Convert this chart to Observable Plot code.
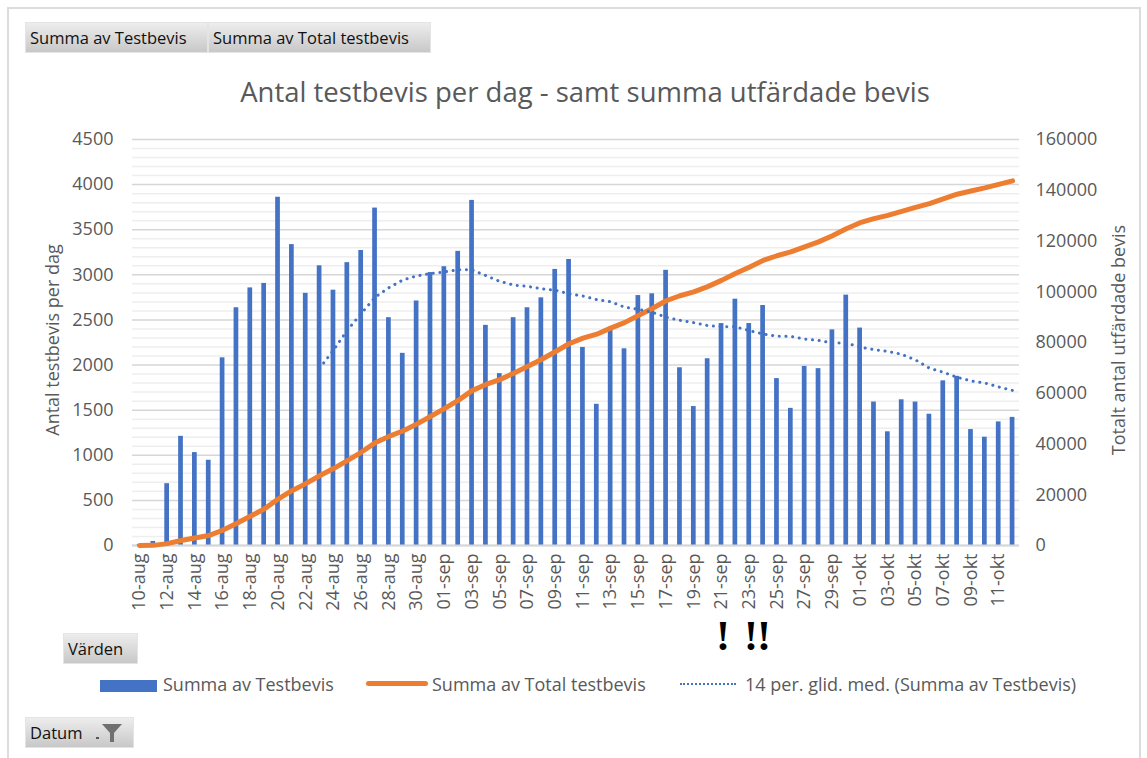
<!DOCTYPE html>
<html><head><meta charset="utf-8">
<script src="https://cdn.jsdelivr.net/npm/d3@7"></script>
<script src="https://cdn.jsdelivr.net/npm/@observablehq/plot@0.6"></script>
<style>
body{margin:0;background:#fff;}
#page{position:relative;width:1147px;height:758px;overflow:hidden;font-family:"Open Sans",sans-serif;background:#fff;}
.frame{position:absolute;left:7px;top:7px;width:1134px;height:800px;border:2px solid #dcdcdc;box-sizing:border-box;}
.btn{position:absolute;height:31px;background:linear-gradient(#ededed,#c8c8c8);border:1px solid #e4e4e4;box-sizing:border-box;font-size:16.5px;color:#111;line-height:29px;padding-left:4px;white-space:nowrap;}
.title{position:absolute;left:0;width:1170px;top:73px;text-align:center;font-size:27.5px;color:#595959;white-space:nowrap;}
.ytitle{position:absolute;font-size:18px;color:#595959;white-space:nowrap;transform:rotate(-90deg);transform-origin:center center;text-align:center;width:300px;height:24px;line-height:24px;}
.leg{position:absolute;top:672px;font-size:18px;color:#595959;white-space:nowrap;line-height:24px;}
.excl{position:absolute;top:612px;font-family:"Liberation Serif","DejaVu Serif",serif;font-weight:bold;font-size:42px;color:#000;white-space:nowrap;letter-spacing:-1px;}
#chart{position:absolute;left:0;top:120px;}
</style></head>
<body>
<div id="page">
  <div class="frame"></div>
  <div class="btn" style="left:25px;top:22px;width:183px;">Summa av Testbevis</div>
  <div class="btn" style="left:208px;top:22px;width:223px;">Summa av Total testbevis</div>
  <div class="title">Antal testbevis per dag - samt summa utfärdade bevis</div>
  <div class="ytitle" style="left:-98px;top:328px;">Antal testbevis per dag</div>
  <div class="ytitle" style="left:968px;top:328px;">Totalt antal utfärdade bevis</div>
  <div id="chart"></div>
  <div class="btn" style="left:63px;top:633px;width:75px;padding-left:4px;">Värden</div>
  <div class="excl" style="left:716px;">!</div>
  <div class="excl" style="left:744px;">!!</div>
  <div class="leg" style="left:100px;"><span style="display:inline-block;width:57px;height:12px;background:#4472C4;vertical-align:-1px;margin-right:6px;"></span>Summa av Testbevis</div>
  <div class="leg" style="left:366px;"><span style="display:inline-block;width:62px;height:5px;border-radius:3px;background:#ED7D31;vertical-align:5px;margin-right:4px;"></span>Summa av Total testbevis</div>
  <div class="leg" style="left:680px;"><span style="display:inline-block;width:56px;height:0;border-top:2.5px dotted #4472C4;vertical-align:6px;margin-right:9px;"></span>14 per. glid. med. (Summa av Testbevis)</div>
  <div class="btn" style="left:25px;top:717px;width:109px;">Datum <svg width="36" height="22" style="position:absolute;left:66px;top:4px;"><rect x="4" y="15" width="3" height="2" fill="#555"/><polygon points="10,2 30,2 22,11 22,20 18,20 18,11" fill="#707070"/></svg></div>
</div>
<script>
const dates = ["10-aug","11-aug","12-aug","13-aug","14-aug","15-aug","16-aug","17-aug","18-aug","19-aug","20-aug","21-aug","22-aug","23-aug","24-aug","25-aug","26-aug","27-aug","28-aug","29-aug","30-aug","31-aug",
"01-sep","02-sep","03-sep","04-sep","05-sep","06-sep","07-sep","08-sep","09-sep","10-sep","11-sep","12-sep","13-sep","14-sep","15-sep","16-sep","17-sep","18-sep","19-sep","20-sep","21-sep","22-sep","23-sep","24-sep","25-sep","26-sep","27-sep","28-sep","29-sep","30-sep",
"01-okt","02-okt","03-okt","04-okt","05-okt","06-okt","07-okt","08-okt","09-okt","10-okt","11-okt","12-okt"];
const testbevis = [10,45,685,1210,1030,945,2080,2635,2855,2905,3860,3335,2795,3100,2830,3135,3270,3740,2525,2130,2710,3025,
3090,3260,3825,2440,1905,2525,2635,2745,3060,3170,2195,1565,2385,2180,2770,2790,3050,1970,1540,2070,2460,2730,2460,2660,1850,1520,1985,1960,2390,2775,
2410,1590,1260,1615,1590,1455,1825,1875,1285,1200,1370,1420];
const xTickLabels = ["10-aug","12-aug","14-aug","16-aug","18-aug","20-aug","22-aug","24-aug","26-aug","28-aug","30-aug","01-sep","03-sep","05-sep","07-sep","09-sep","11-sep","13-sep","15-sep","17-sep","19-sep","21-sep","23-sep","25-sep","27-sep","29-sep","01-okt","03-okt","05-okt","07-okt","09-okt","11-okt"];
const leftTicks = [0,500,1000,1500,2000,2500,3000,3500,4000,4500];
const rightTicks = [0,20000,40000,60000,80000,100000,120000,140000,160000];
const minorGrid = d3.range(0, 4501, 100);

const leftMax = 4500, rightMax = 160000, k = leftMax / rightMax;
const rows = dates.map((d, i) => ({date: d, count: testbevis[i]}));
const cumsumScaled = {mapIndex(I, S, T) { let s = 0; for (const i of I) { s += S[i]; T[i] = s * k; } }};

const chart = Plot.plot({
  width: 1147, height: 520,
  marginLeft: 132, marginRight: 128, marginTop: 19, marginBottom: 95,
  style: {fontFamily: "Open Sans, sans-serif", color: "#595959", background: "transparent", overflow: "visible"},
  x: {type: "band", domain: dates, paddingInner: 0.66, paddingOuter: 0.33},
  y: {domain: [0, leftMax]},
  marks: [
    Plot.ruleY(minorGrid.filter(v => v % 500 !== 0), {stroke: "#eeeeee", strokeWidth: 1.5}),
    Plot.ruleY(leftTicks, {stroke: "#d6d6d6", strokeWidth: 1.5}),
    Plot.barY(rows, {x: "date", y: "count", fill: "#4472C4"}),
    Plot.ruleY([0], {stroke: "#d6d6d6", strokeWidth: 2}),
    Plot.line(rows, Plot.mapY(cumsumScaled, {x: "date", y: "count", stroke: "#ED7D31", strokeWidth: 5, strokeLinejoin: "round", strokeLinecap: "round"})),
    Plot.line(rows, Plot.windowY({k: 14, anchor: "end", reduce: "mean", strict: true}, {x: "date", y: "count", stroke: "#4472C4", strokeWidth: 3, strokeLinecap: "round", strokeDasharray: "0.1 6.6"})),
    Plot.axisY(leftTicks, {anchor: "left", tickSize: 0, tickPadding: 19, fontSize: 18, label: null, tickFormat: v => String(v)}),
    Plot.axisY(rightTicks.map(v => v * k), {anchor: "right", tickSize: 0, tickPadding: 16, fontSize: 18, label: null, tickFormat: v => String(Math.round(v / k))}),
    Plot.axisX(xTickLabels, {anchor: "bottom", tickSize: 0, tickPadding: 8, tickRotate: -90, fontSize: 18, label: null})
  ]
});
document.getElementById("chart").appendChild(chart);
</script>
</body></html>
